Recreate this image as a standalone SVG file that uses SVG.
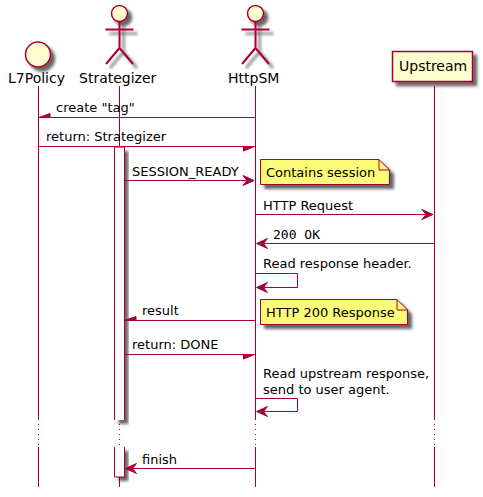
<svg xmlns="http://www.w3.org/2000/svg" width="483" height="497" viewBox="0 0 483 497">
<defs>
<filter id="sh" x="-30%" y="-30%" width="170%" height="170%"><feGaussianBlur in="SourceAlpha" stdDeviation="1.7" result="b"/><feColorMatrix in="b" type="matrix" values="0 0 0 0 0 0 0 0 0 0 0 0 0 0 0 0 0 0 0.6 0" result="c"/><feOffset in="c" dx="4" dy="4" result="o"/><feMerge><feMergeNode in="o"/><feMergeNode in="SourceGraphic"/></feMerge></filter>
</defs>
<style>
text{font-family:"DejaVu Sans",sans-serif;font-size:13px;fill:#000}
.p{font-size:14px}
.l{stroke:#A80036;stroke-width:1;fill:none}
.t{stroke:#A80036;stroke-width:2;fill:none}
.a{fill:#A80036;stroke:#A80036;stroke-width:1}
.f{fill:#FEFECE;stroke:#A80036;stroke-width:1.5}
.n{fill:#FBFB77;stroke:#A80036;stroke-width:1}
.d{stroke:#A80036;stroke-width:1;stroke-dasharray:1 4;fill:none}
</style>
<g id="lifelines">
<path class="l" d="M38.500 86V420M119.500 86V420M255.500 86V420M434.500 86V420M38.500 447V487M119.500 447V487M255.500 447V487M434.500 447V487"/>
<path class="d" d="M38.500 424V447M119.500 424V447M255.500 424V447M434.500 424V447"/>
</g>
<g id="L7Policy">
<circle class="f" cx="38" cy="54.500" r="12.500" filter="url(#sh)"/>
<text class="p" x="8" y="83">L7Policy</text>
</g>
<g id="Strategizer">
<g filter="url(#sh)"><circle class="f" cx="119.500" cy="13.500" r="8"/><path class="t" d="M119.500 21.500V48M105.500 29.500H133.500M119.500 48L106 64M119.500 48L133 64"/></g>
<text class="p" x="79" y="83">Strategizer</text>
</g>
<g id="HttpSM">
<g filter="url(#sh)"><circle class="f" cx="255.500" cy="13.500" r="8"/><path class="t" d="M255.500 21.500V48M241.500 29.500H269.500M255.500 48L242 64M255.500 48L269 64"/></g>
<text class="p" x="228" y="83">HttpSM</text>
</g>
<g id="Upstream">
<rect class="f" x="392.500" y="51.500" width="80" height="30" filter="url(#sh)"/>
<text class="p" x="399" y="71">Upstream</text>
</g>
<g id="activations">
<path d="M114.500 147H124.500V420H114.500Z" fill="#fff" filter="url(#sh)"/>
<path class="l" d="M114.500 420V147H124.500V420"/>
<path d="M114.500 447H124.500V477H114.500Z" fill="#fff" filter="url(#sh)"/>
<path class="l" d="M114.500 447V477H124.500V447"/>
</g>
<g id="connectors">
<path class="l" d="M255 117.500H39"/><path class="a" d="M39 117.500L50 113.500V117.500Z"/>
<path class="l" d="M39 146.500H255"/><path class="a" d="M254.500 146.500L243.500 151V146.500Z"/>
<path class="l" d="M125 180.500H254"/><path class="a" d="M254 180.500L243 175.500L247 180.500L243 185.500Z"/>
<path class="l" d="M256 214.500H433"/><path class="a" d="M433 214.500L422 209.500L426 214.500L422 219.500Z"/>
<path class="l" d="M434 243.500H257"/><path class="a" d="M256.500 243.500L267.500 238.500L263.500 243.500L267.500 248.500Z"/>
<path class="l" d="M256 273.500H297.500V287.500H257"/><path class="a" d="M256.500 287.500L267.500 282.500L263.500 287.500L267.500 292.500Z"/>
<path class="l" d="M255 320.500H125"/><path class="a" d="M124 320.500L136 316.500V320.500Z"/>
<path class="l" d="M125 354.500H255"/><path class="a" d="M254.500 354.500L243.500 359V354.500Z"/>
<path class="l" d="M256 398.500H297.500V411.500H257"/><path class="a" d="M256.500 411.500L267.500 406.500L263.500 411.500L267.500 416.500Z"/>
<path class="l" d="M255 468.500H126"/><path class="a" d="M125.500 468.500L136.500 463.500L132.500 468.500L136.500 473.500Z"/>
</g>
<g id="labels">
<text x="56" y="112">create "tag"</text>
<text x="46" y="141">return: Strategizer</text>
<text x="132" y="176">SESSION_READY</text>
<text x="263" y="210">HTTP Request</text>
<text x="273" y="239" style="font-family:'DejaVu Sans Mono',monospace">200 OK</text>
<text x="263" y="268">Read response header.</text>
<text x="142" y="315">result</text>
<text x="132" y="349">return: DONE</text>
<text x="263" y="378">Read upstream response,</text>
<text x="263" y="394">send to user agent.</text>
<text x="142" y="464">finish</text>
</g>
<g id="note-session">
<path class="n" d="M260.500 159.500H379L389.500 170V184.500H260.500Z" filter="url(#sh)"/>
<path class="l" d="M379 159.500V170H389.500"/>
<text x="266" y="177">Contains session</text>
</g>
<g id="note-200">
<path class="n" d="M260.500 299.500H397L407.500 310V324.500H260.500Z" filter="url(#sh)"/>
<path class="l" d="M397 299.500V310H407.500"/>
<text x="266" y="317">HTTP 200 Response</text>
</g>
</svg>
